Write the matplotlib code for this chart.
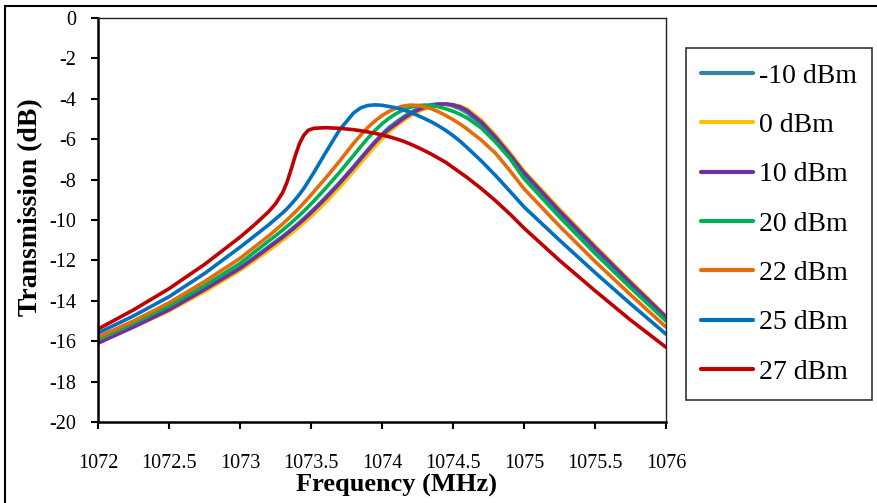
import matplotlib
matplotlib.use("Agg")
import matplotlib.pyplot as plt
from matplotlib.patches import Rectangle

plt.rcParams['font.family'] = ['Liberation Serif', 'DejaVu Serif']

freq = [1072, 1072.25, 1072.5, 1072.75, 1073, 1073.1, 1073.2, 1073.25, 1073.3, 1073.33,
        1073.36, 1073.39, 1073.42, 1073.45, 1073.48, 1073.52, 1073.6, 1073.7, 1073.8, 1073.85,
        1073.9, 1073.95, 1074, 1074.05, 1074.1, 1074.15, 1074.2, 1074.25, 1074.3, 1074.35,
        1074.4, 1074.45, 1074.5, 1074.55, 1074.6, 1074.7, 1074.8, 1074.9, 1075, 1075.25,
        1075.5, 1075.75, 1076]

s_m10 = [-16.0, -15.25, -14.4, -13.4, -12.35, -11.85, -11.33, -11.07, -10.81, -10.64,
         -10.47, -10.29, -10.11, -9.92, -9.73, -9.46, -8.9, -8.15, -7.35, -6.93,
         -6.52, -6.12, -5.75, -5.41, -5.15, -4.9, -4.68, -4.5, -4.37, -4.29,
         -4.25, -4.28, -4.36, -4.5, -4.7, -5.28, -6.03, -6.88, -7.75, -9.65,
         -11.45, -13.18, -14.88]
s_0 = [-16.05, -15.3, -14.5, -13.55, -12.5, -12.02, -11.52, -11.26, -11.0, -10.84,
       -10.67, -10.5, -10.32, -10.14, -9.95, -9.69, -9.15, -8.4, -7.6, -7.18,
       -6.77, -6.37, -5.99, -5.64, -5.35, -5.08, -4.85, -4.66, -4.5, -4.39,
       -4.31, -4.28, -4.29, -4.36, -4.5, -5.05, -5.8, -6.65, -7.57, -9.45,
       -11.27, -13.03, -14.75]
s_10 = [-16.1, -15.3, -14.45, -13.45, -12.4, -11.9, -11.38, -11.12, -10.86, -10.69,
        -10.52, -10.34, -10.16, -9.97, -9.78, -9.51, -8.95, -8.2, -7.4, -6.98,
        -6.57, -6.17, -5.8, -5.5, -5.25, -4.98, -4.75, -4.57, -4.43, -4.33,
        -4.27, -4.25, -4.3, -4.4, -4.58, -5.15, -5.9, -6.75, -7.65, -9.55,
        -11.35, -13.1, -14.8]
s_20 = [-15.9, -15.1, -14.25, -13.25, -12.15, -11.6, -11.05, -10.78, -10.5, -10.32,
        -10.14, -9.95, -9.76, -9.56, -9.35, -9.06, -8.45, -7.65, -6.8, -6.37,
        -5.95, -5.57, -5.24, -4.96, -4.73, -4.55, -4.42, -4.34, -4.31, -4.33,
        -4.4, -4.5, -4.62, -4.77, -4.95, -5.45, -6.15, -6.95, -7.95, -9.85,
        -11.65, -13.35, -15.0]
s_22 = [-15.8, -15.0, -14.1, -13.05, -11.9, -11.35, -10.8, -10.5, -10.2, -10.0,
        -9.8, -9.6, -9.38, -9.15, -8.92, -8.6, -7.95, -7.1, -6.2, -5.8,
        -5.42, -5.1, -4.83, -4.62, -4.46, -4.36, -4.31, -4.33, -4.4, -4.5,
        -4.65, -4.83, -5.03, -5.25, -5.5, -6.05, -6.7, -7.55, -8.45, -10.3,
        -12.05, -13.7, -15.3]
s_25 = [-15.6, -14.75, -13.8, -12.65, -11.35, -10.8, -10.25, -9.95, -9.65, -9.45,
        -9.22, -8.98, -8.72, -8.43, -8.1, -7.65, -6.7, -5.55, -4.7, -4.45,
        -4.33, -4.3, -4.32, -4.38, -4.45, -4.55, -4.67, -4.82, -4.98, -5.15,
        -5.35, -5.57, -5.82, -6.1, -6.42, -7.08, -7.8, -8.57, -9.35, -11.0,
        -12.6, -14.15, -15.65]
s_27 = [-15.4, -14.45, -13.4, -12.2, -10.85, -10.25, -9.6, -9.2, -8.65, -8.15,
        -7.5, -6.8, -6.2, -5.8, -5.56, -5.46, -5.43, -5.46, -5.53, -5.58,
        -5.64, -5.71, -5.79, -5.88, -5.98, -6.1, -6.24, -6.4, -6.57, -6.75,
        -6.95, -7.15, -7.4, -7.65, -7.9, -8.45, -9.05, -9.7, -10.4, -12.0,
        -13.5, -14.95, -16.3]

labels = ['-10 dBm', '0 dBm', '10 dBm', '20 dBm', '22 dBm', '25 dBm', '27 dBm']
series = [s_m10, s_0, s_10, s_20, s_22, s_25, s_27]
colors = ['#31859C', '#FFC000', '#7030A0', '#00B050', '#E46C0A', '#0070C0', '#C00000']

xticks = [1072, 1072.5, 1073, 1073.5, 1074, 1074.5, 1075, 1075.5, 1076]
xticklabels = ['1072', '1072.5', '1073', '1073.5', '1074', '1074.5', '1075', '1075.5', '1076']
yticks = [0, -2, -4, -6, -8, -10, -12, -14, -16, -18, -20]

W, H = 878, 503
fig = plt.figure(figsize=(W / 100, H / 100), dpi=100)
ax = fig.add_axes([98 / W, 1 - 422 / H, (666 - 98) / W, (422 - 18) / H])

for s, c, lab in zip(series, colors, labels):
    ax.plot(freq, s, color=c, lw=2.6, label=lab, solid_capstyle='round', solid_joinstyle='round')

ax.set_xlim(1072, 1076)
ax.set_ylim(-20, 0)
ax.set_xticks(xticks)
ax.set_xticklabels(xticklabels)
ax.set_yticks(yticks)
ax.set_yticklabels([str(v) for v in yticks])
ax.tick_params(axis='both', direction='out', length=5, width=1.5, labelsize=14.5, colors='black')
ax.tick_params(axis='x', pad=18)
ax.tick_params(axis='y', pad=11)

for side in ['left', 'bottom']:
    ax.spines[side].set_linewidth(1.8)
    ax.spines[side].set_color('black')
for side in ['top', 'right']:
    ax.spines[side].set_linewidth(1.0)
    ax.spines[side].set_color('#222222')

ax.set_xlabel('Frequency (MHz)', fontsize=19, fontweight='bold')
ax.xaxis.set_label_coords((396.5 - 98) / 568, (422 - 474) / 404)
ax.set_ylabel('Transmission (dB)', fontsize=20, fontweight='bold')
ax.yaxis.set_label_coords((43 - 98) / 568, (422 - 207) / 404)

leg = fig.legend(loc='upper left', bbox_to_anchor=(686 / W, 1 - 48 / H), borderaxespad=0,
                 fontsize=20, frameon=True, fancybox=False, edgecolor='black',
                 handlelength=1.85, handletextpad=0.22, labelspacing=0.86, borderpad=0.55)
leg.get_frame().set_linewidth(1.2)
for line in leg.get_lines():
    line.set_linewidth(3)

# outer chart border (partly cropped)
fig.patches.append(Rectangle((5 / W, -0.1), 1.2, 1.1 - 6 / H, transform=fig.transFigure,
                             fill=False, edgecolor='black', linewidth=1.5))

fig.savefig('out.png', dpi=100)
